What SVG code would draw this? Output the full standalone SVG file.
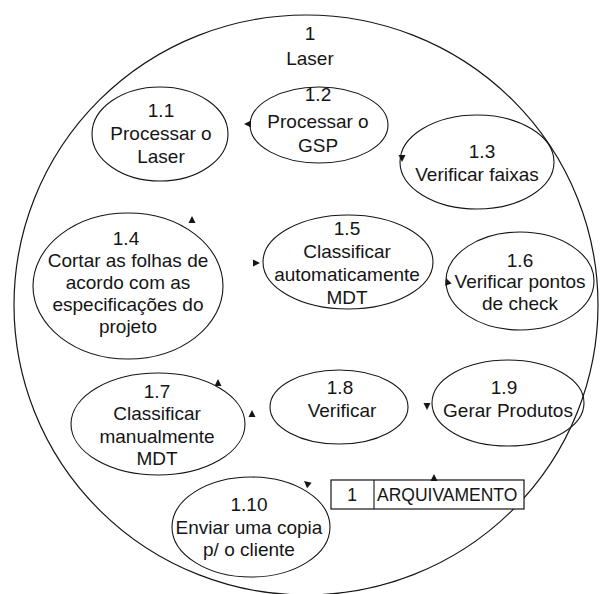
<svg xmlns="http://www.w3.org/2000/svg" xmlns:xlink="http://www.w3.org/1999/xlink" width="601" height="594" viewBox="0 0 601 594">
  <style>
    .bg { fill: #ffffff; }
    .proc { fill: none; stroke: #151515; stroke-width: 1.1; }
    .outer { fill: none; stroke: #151515; stroke-width: 1.2; }
    .lbl { font-family: "Liberation Sans", Arial, sans-serif; font-size: 19px; fill: #151515; text-anchor: middle; }
    .store { fill: #fff; stroke: #151515; stroke-width: 1.2; }
    .slbl { font-family: "Liberation Sans", Arial, sans-serif; font-size: 17.5px; fill: #151515; }
    .head { fill: #151515; }
  </style>
  <defs>
    <!-- arrowhead pointing along +x, tip at origin -->
    <path id="ah" d="M0,0 L-7,-3.5 L-7,3.5 Z"/>
  </defs>

  <rect class="bg" x="0" y="0" width="601" height="594"/>

  <!-- parent process 1 -->
  <g id="node-1">
    <ellipse class="outer" cx="306" cy="305" rx="292" ry="290"/>
    <text class="lbl" x="310" y="40">1</text>
    <text class="lbl" x="310" y="65">Laser</text>
  </g>

  <g id="node-1-1">
    <ellipse class="proc" cx="160" cy="134" rx="68" ry="47"/>
    <text class="lbl" x="161" y="117">1.1</text>
    <text class="lbl" x="161" y="140">Processar o</text>
    <text class="lbl" x="161" y="163">Laser</text>
  </g>

  <g id="node-1-2">
    <ellipse class="proc" cx="319" cy="125" rx="69" ry="38"/>
    <text class="lbl" x="318" y="101">1.2</text>
    <text class="lbl" x="318" y="128">Processar o</text>
    <text class="lbl" x="318" y="152">GSP</text>
  </g>

  <g id="node-1-3">
    <ellipse class="proc" cx="477" cy="162" rx="77" ry="47"/>
    <text class="lbl" x="482" y="158">1.3</text>
    <text class="lbl" x="477" y="181">Verificar faixas</text>
  </g>

  <g id="node-1-4">
    <ellipse class="proc" cx="128" cy="286" rx="95" ry="73"/>
    <text class="lbl" x="126" y="245">1.4</text>
    <text class="lbl" x="128" y="267">Cortar as folhas de</text>
    <text class="lbl" x="128" y="289">acordo com as</text>
    <text class="lbl" x="128" y="311">especificações do</text>
    <text class="lbl" x="128" y="333">projeto</text>
  </g>

  <g id="node-1-5">
    <ellipse class="proc" cx="348" cy="262" rx="85" ry="47"/>
    <text class="lbl" x="347" y="235">1.5</text>
    <text class="lbl" x="347" y="258">Classificar</text>
    <text class="lbl" x="347" y="281">automaticamente</text>
    <text class="lbl" x="347" y="304">MDT</text>
  </g>

  <g id="node-1-6">
    <ellipse class="proc" cx="520" cy="281" rx="74" ry="49"/>
    <text class="lbl" x="520" y="267">1.6</text>
    <text class="lbl" x="520" y="288">Verificar pontos</text>
    <text class="lbl" x="520" y="310">de check</text>
  </g>

  <g id="node-1-7">
    <ellipse class="proc" cx="158" cy="424" rx="87" ry="51"/>
    <text class="lbl" x="157" y="398">1.7</text>
    <text class="lbl" x="157" y="420">Classificar</text>
    <text class="lbl" x="157" y="443">manualmente</text>
    <text class="lbl" x="157" y="465">MDT</text>
  </g>

  <g id="node-1-8">
    <ellipse class="proc" cx="339" cy="407" rx="69" ry="37"/>
    <text class="lbl" x="340" y="394">1.8</text>
    <text class="lbl" x="342" y="417">Verificar</text>
  </g>

  <g id="node-1-9">
    <ellipse class="proc" cx="508" cy="403" rx="76" ry="43"/>
    <text class="lbl" x="504" y="394">1.9</text>
    <text class="lbl" x="508" y="417">Gerar Produtos</text>
  </g>

  <g id="node-1-10">
    <ellipse class="proc" cx="251" cy="527" rx="79" ry="50"/>
    <text class="lbl" x="249" y="511">1.10</text>
    <text class="lbl" x="249" y="534">Enviar uma copia</text>
    <text class="lbl" x="249" y="556">p/ o cliente</text>
  </g>

  <!-- data store D1 -->
  <g id="store-1">
    <rect class="store" x="331" y="480" width="193" height="29"/>
    <line class="proc" x1="374" y1="480" x2="374" y2="509"/>
    <text class="slbl" x="352" y="501" text-anchor="middle">1</text>
    <text class="slbl" x="377" y="501">ARQUIVAMENTO</text>
  </g>

  <!-- flow arrowheads -->
  <g id="connectors" class="head">
    <use xlink:href="#ah" transform="translate(244,124) rotate(180)"/>
    <use xlink:href="#ah" transform="translate(402,162) rotate(90)"/>
    <use xlink:href="#ah" transform="translate(192,216) rotate(-90)"/>
    <use xlink:href="#ah" transform="translate(260,263)"/>
    <use xlink:href="#ah" transform="translate(446,278) rotate(-110)"/>
    <use xlink:href="#ah" transform="translate(218,379) rotate(-90)"/>
    <use xlink:href="#ah" transform="translate(252,410) rotate(-90)"/>
    <use xlink:href="#ah" transform="translate(427,410) rotate(90)"/>
    <use xlink:href="#ah" transform="translate(304,481) rotate(-140)"/>
    <use xlink:href="#ah" transform="translate(434,474) rotate(-90)"/>
  </g>
</svg>
